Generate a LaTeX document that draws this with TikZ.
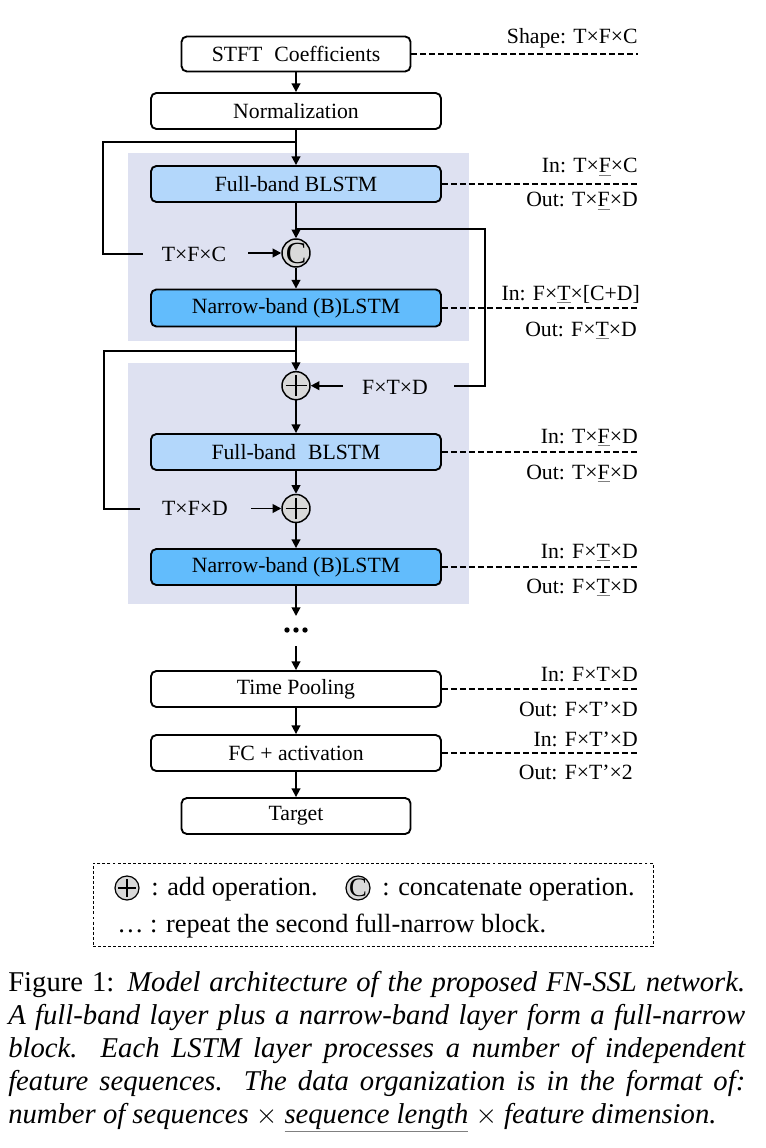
\documentclass[tikz,border=0pt]{standalone}
\usepackage{fontspec}
\setmainfont{Liberation Serif}
\usetikzlibrary{arrows.meta}
\definecolor{fbcol}{HTML}{B3D7FB}
\definecolor{nbcol}{HTML}{62BCFC}
\definecolor{bgcol}{HTML}{DEE1F1}
\definecolor{opcol}{HTML}{D9D9D9}
\newcommand\ulx[1]{{\color{gray}\underline{\textcolor{black}{#1}}}}
\begin{document}
\begin{tikzpicture}[x=0.75pt,y=-0.75pt,
  dfont/.style={font=\fontsize{16.3}{19}\selectfont},
  box/.style={draw, line width=1.4pt, rounded corners=4pt, inner sep=0pt,
    minimum width={290*0.75pt}, minimum height={36*0.75pt}, dfont},
  wbox/.style={box, fill=white},
  fbbox/.style={box, fill=fbcol},
  nbbox/.style={box, fill=nbcol},
  opnode/.style={circle, draw, line width=1.1pt, fill=opcol, minimum size={28*0.75pt}, inner sep=0pt},
  dimlab/.style={dfont, inner sep=0pt},
  ln/.style={line width=1.35pt},
  arr/.style={ln, -{Triangle[length=6.5pt,width=6.5pt]}},
  dl/.style={line width=1.2pt, dash pattern=on 4.5pt off 2.25pt},
]
\useasboundingbox (0,0) rectangle (766,1148);
\fill[white] (0,0) rectangle (766,1148);
% backgrounds
\fill[bgcol] (127.7,152.7) rectangle (469,341);
\fill[bgcol] (127.7,362.7) rectangle (469,604.4);

% right edge reference
\coordinate (R) at (638,0);

% main boxes
\node[wbox, minimum width={229*0.75pt}, minimum height={35*0.75pt}] (stft) at (296,54) {STFT\hspace{0.55em}Coefficients};
\node[wbox] (norm) at (296,111) {Normalization};
\node[fbbox] (fb1) at (296,184) {Full-band BLSTM};
\node[opnode] (c1) at (296,253) {};
\node[font=\fontsize{23}{23}\selectfont, inner sep=0pt] (c1t) at (c1.center) {C};
\node[nbbox, minimum height={37*0.75pt}] (nb1) at (296,308) {Narrow-band (B)LSTM};
\node[opnode] (p1) at (296,385.7) {};
\node[fbbox] (fb2) at (296,452) {Full-band\hspace{0.55em}BLSTM};
\node[opnode] (p2) at (296,508.5) {};
\node[nbbox] (nb2) at (296,567) {Narrow-band (B)LSTM};
\node[inner sep=0pt] (dots) at (296,630) {\tikz[x=0.75pt,y=-0.75pt]{\fill (0,0) circle (2.7) (9,0) circle (2.7) (18,0) circle (2.7);}};
\node[wbox] (tp) at (296,689) {Time Pooling};
\node[wbox] (fc) at (296,753) {FC + activation};
\node[wbox, minimum width={229*0.75pt}] (tg) at (296,816) {Target};

% plus signs
\foreach \p in {p1,p2}{
  \draw[line width=1pt] ([xshift={-10.5*0.75pt}]\p.center) -- ([xshift={10.5*0.75pt}]\p.center);
  \draw[line width=1pt] ([yshift={-10.5*0.75pt}]\p.center) -- ([yshift={10.5*0.75pt}]\p.center);
}

% main arrows
\draw[arr] (stft) -- (norm);
\draw[arr] (norm) -- (fb1);
\draw[arr] (fb1) -- (c1);
\draw[arr] (c1) -- (nb1);
\draw[arr] (nb1) -- (p1);
\draw[arr] (p1) -- (fb2);
\draw[arr] (fb2) -- (p2);
\draw[arr] (p2) -- (nb2);
\coordinate (d1) at (296,616);
\coordinate (d2) at (296,646);
\draw[arr] (nb2) -- (d1);
\draw[arr] (d2) -- (tp);
\draw[arr] (tp) -- (fc);
\draw[arr] (fc) -- (tg);

% skip loop 1 (concat)
\coordinate (j1) at (296,141.7);
\coordinate (l1a) at (103.3,141.7);
\coordinate (l1b) at (103.3,254);
\coordinate (l1c) at (143,254);
\draw[ln] (j1) -- (l1a) -- (l1b) -- (l1c);
\node[dimlab] (t1) at (194,254) {T×F×C};
\coordinate (a1) at (248,253);
\draw[arr] (a1) -- (c1.west);

% residual branch 1
\coordinate (j2) at (296,229);
\coordinate (r2a) at (485,229);
\coordinate (r2b) at (485,385.7);
\coordinate (r2c) at (454,385.7);
\draw[ln] (j2) -- (r2a) -- (r2b) -- (r2c);
\node[dimlab] (t2) at (395,387) {F×T×D};
\coordinate (a2) at (343,385.7);
\draw[arr] (a2) -- (p1.east);

% residual branch 2
\coordinate (j3) at (296,351);
\coordinate (l3a) at (104,351);
\coordinate (l3b) at (104,509);
\coordinate (l3c) at (140,509);
\draw[ln] (j3) -- (l3a) -- (l3b) -- (l3c);
\node[dimlab] (t3) at (195,508) {T×F×D};
\coordinate (a3) at (251,508.5);
\draw[arr] (a3) -- (p2.west);

% dashed leaders and shape labels
\draw[dl] (stft.east) -- (stft.east -| R);
\node[dimlab, anchor=base east] (s0) at (638,43.3) {Shape: T×F×C};

\draw[dl] (fb1.east) -- (fb1.east -| R);
\node[dimlab, anchor=base east] (i1) at (638,173) {In: T×\ulx{F}×C};
\node[dimlab, anchor=base east] (o1) at (638,207) {Out: T×\ulx{F}×D};

\draw[dl] (nb1.east) -- (nb1.east -| R);
\node[dimlab, anchor=base east] (i2) at (640,300) {In: F×\ulx{T}×[C+D]};
\node[dimlab, anchor=base east] (o2) at (637,336) {Out: F×\ulx{T}×D};

\draw[dl] (fb2.east) -- (fb2.east -| R);
\node[dimlab, anchor=base east] (i3) at (638,443) {In: T×\ulx{F}×D};
\node[dimlab, anchor=base east] (o3) at (638,479) {Out: T×\ulx{F}×D};

\draw[dl] (nb2.east) -- (nb2.east -| R);
\node[dimlab, anchor=base east] (i4) at (638,558) {In: F×\ulx{T}×D};
\node[dimlab, anchor=base east] (o4) at (638,593) {Out: F×\ulx{T}×D};

\draw[dl] (tp.east) -- (tp.east -| R);
\node[dimlab, anchor=base east] (i5) at (638,681) {In: F×T×D};
\node[dimlab, anchor=base east] (o5) at (638,716) {Out: F×T’×D};

\draw[dl] (fc.east) -- (fc.east -| R);
\node[dimlab, anchor=base east] (i6) at (638,746) {In: F×T’×D};
\node[dimlab, anchor=base east] (o6) at (633,779) {Out: F×T’×2};

% legend
\node[draw, line width=0.7pt, dash pattern=on 2.2pt off 1.6pt, minimum width={560*0.75pt}, minimum height={83*0.75pt}, inner sep=0pt] (leg) at (373,904.5) {};
\node[opnode, minimum size={24*0.75pt}, line width=0.9pt] (lp) at (127,888) {};
\draw[line width=0.9pt] ([xshift={-9*0.75pt}]lp.center) -- ([xshift={9*0.75pt}]lp.center);
\draw[line width=0.9pt] ([yshift={-9*0.75pt}]lp.center) -- ([yshift={9*0.75pt}]lp.center);
\node[font=\fontsize{19.7}{24}\selectfont, inner sep=0pt, anchor=base west] (lt1) at (151,895) {: add operation.};
\node[opnode, minimum size={24*0.75pt}, line width=0.9pt] (lc) at (358,888) {};
\node[font=\fontsize{20}{20}\selectfont, inner sep=0pt] (lct) at (lc.center) {C};
\node[font=\fontsize{19.7}{24}\selectfont, inner sep=0pt, anchor=base west] (lt2) at (382,895) {: concatenate operation.};
\node[font=\fontsize{19.7}{24}\selectfont, inner sep=0pt, anchor=base west] (lt3) at (117,932) {…\ : repeat the second full-narrow block.};

% caption
\node[anchor=north west, inner sep=0pt, text width={737*0.75pt}, align=justify,
  font=\fontsize{21.5}{24.75}\selectfont] (cap) at (8,971)
  {Figure 1: \textit{Model architecture of the proposed FN-SSL network.\linebreak
  A full-band layer plus a narrow-band layer form a full-narrow\linebreak
  block.  Each LSTM layer processes a number of independent\linebreak
  feature sequences.  The data organization is in the format of:\linebreak
  number of sequences} $\times$ {\color{gray}\underline{\textcolor{black}{\textit{sequence length}}}} $\times$ \textit{feature dimension.}};
\end{tikzpicture}
\end{document}
